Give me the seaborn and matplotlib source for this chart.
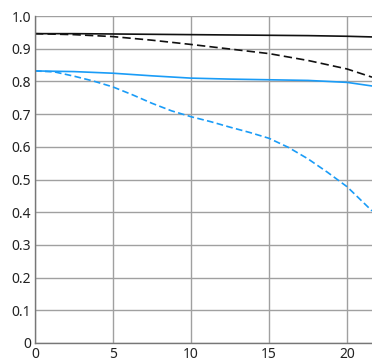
import numpy as np
import pandas as pd
import matplotlib
matplotlib.use("Agg")
import matplotlib.pyplot as plt
import seaborn as sns

# field position (mm)
pos = [0, 2.5, 5, 7.5, 10, 12.5, 15, 17.5, 20, 21.6]
pos_fine = [0, 1.25, 2.5, 3.75, 5, 6.25, 7.5, 8.75, 10, 11.25, 12.5, 13.75,
            15, 16.25, 17.5, 18.75, 20, 21.6]

# MTF values
black_solid = [0.946, 0.946, 0.945, 0.944, 0.943, 0.942, 0.941, 0.940, 0.938, 0.936]
black_dash = [0.946, 0.943, 0.937, 0.926, 0.913, 0.899, 0.885, 0.864, 0.838, 0.813]
blue_solid = [0.832, 0.830, 0.825, 0.817, 0.810, 0.807, 0.805, 0.803, 0.797, 0.786]
blue_dash = [0.832, 0.829, 0.816, 0.801, 0.783, 0.759, 0.733, 0.710, 0.692, 0.677,
             0.660, 0.644, 0.626, 0.598, 0.563, 0.522, 0.478, 0.404]

series = {
    "black_solid": (pos, black_solid),
    "black_dash": (pos, black_dash),
    "blue_solid": (pos, blue_solid),
    "blue_dash": (pos_fine, blue_dash),
}
df = pd.DataFrame([(k, x, y) for k, (xs, v) in series.items() for x, y in zip(xs, v)],
                  columns=["name", "x", "mtf"])

sns.set_style("white")
plt.rcParams['font.family'] = ['Noto Sans', 'DejaVu Sans']

fig = plt.figure(figsize=(3.72, 3.64), dpi=100)
ax = fig.add_axes([35 / 372, 21 / 364, 337 / 372, 327 / 364])

styles = {
    "black_solid": ("#111111", "-"),
    "black_dash": ("#111111", (0, (5, 2.5))),
    "blue_solid": ("#1a9cf7", "-"),
    "blue_dash": ("#1a9cf7", (0, (4, 2))),
}
for name, (col, ls) in styles.items():
    sub = df[df["name"] == name]
    sns.lineplot(data=sub, x="x", y="mtf", ax=ax, color=col, linestyle=ls,
                 linewidth=1.2, legend=False)

ax.set_xlim(0, 21.6)
ax.set_ylim(0, 1.0)
ax.set_xticks([0, 5, 10, 15, 20])
ax.set_yticks(np.round(np.arange(0, 1.01, 0.1), 1))
ax.set_yticklabels(["0"] + [f"{v:.1f}" for v in np.arange(0.1, 1.01, 0.1)])
ax.grid(True, color="#a0a0a0", linewidth=1)
ax.set_axisbelow(True)
ax.set_xlabel("")
ax.set_ylabel("")
for s in ["top", "right"]:
    ax.spines[s].set_visible(False)
for s in ["left", "bottom"]:
    ax.spines[s].set_color("#777777")
    ax.spines[s].set_linewidth(1)
ax.tick_params(axis="both", length=0, labelsize=10, colors="#222222", pad=3)

fig.savefig("out.png", dpi=100)
